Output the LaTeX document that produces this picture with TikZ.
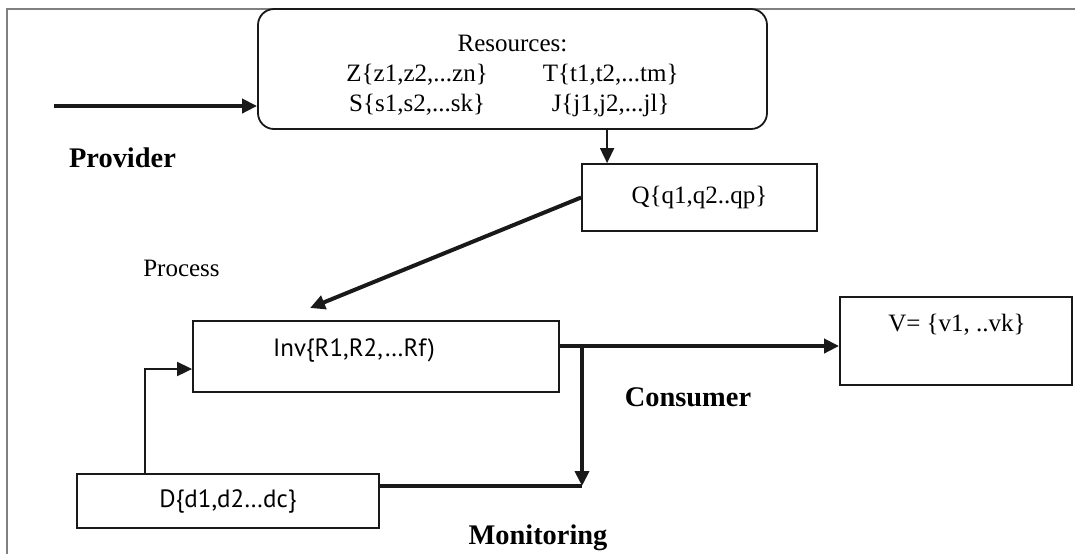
\documentclass[tikz,border=0pt]{standalone}
\usepackage{fontspec}
\setmainfont{Liberation Serif}
\newfontfamily\invfont{PT Sans}
\usetikzlibrary{arrows.meta, calc, positioning}

\tikzset{
  box/.style={draw=black!90, line width=0.9pt, inner sep=0pt},
  serif/.style={font=\fontsize{12.5}{15}\selectfont},
  sans/.style={font=\invfont\fontsize{12.5}{15}\selectfont},
  bold/.style={font=\fontsize{14.2}{17}\selectfont\bfseries},
  flow/.style={line width=2pt, draw=black!90},
  link/.style={line width=0.9pt, draw=black!90},
  tip/.style={-{Triangle[length=7.5pt,width=7pt]}},
}

\begin{document}
\begin{tikzpicture}[x=0.5pt, y=-0.5pt]
    \useasboundingbox (0,0) rectangle (1075,554);
    \draw[gray, line width=0.75pt] (7,554) -- (7,9) -- (1075,9);
    % resources
    \node[box, rounded corners=8pt, minimum width=254.5pt, minimum height=60pt, serif, align=center] (res) at (512.5,69)
      {\rule{0pt}{17pt}Resources:\\ \begin{tabular}[t]{@{}c@{\hspace{27.5pt}}c@{}}
        Z\{z1,z2,...zn\} & T\{t1,t2,...tm\}\\
        S\{s1,s2,...sk\} & J\{j1,j2,...jl\}
      \end{tabular}};
    \node[box, minimum width=117.5pt, minimum height=33.5pt, serif] (q) at (699.5,197.5) {Q\{q1,q2..qp\}};
    \node[bold] (prov) at (122.5,158) {Provider};
    \node[serif] (proc) at (181.5,268) {Process};
    % inventory
    \node[box, minimum width=183pt, minimum height=35.5pt] (inv) at (376,356.5) {};
    \node[sans] (invtxt) at (354,350) {Inv\{R1,R2,…Rf)};
    % consumer
    \node[box, minimum width=116pt, minimum height=44pt] (v) at (956,341) {};
    \node[serif] (vtxt) at (957,325) {V= \{v1, ..vk\}};
    \node[bold] (cons) at (688,397) {Consumer};
    % monitoring
    \node[box, minimum width=151pt, minimum height=27pt, sans] (d) at (228,501) {D\{d1,d2…dc\}};
    \node[bold] (mon) at (538,538) {Monitoring};
    % connectors
    \coordinate (src) at (54,106);
    \draw[flow, tip] (src) -- (src -| res.west);
    \coordinate (qin) at ($(q.north west)+(26,0)$);
    \draw[link, tip] (res.south -| qin) -- (qin);
    \coordinate (invin) at (310,308);
    \draw[flow, tip] (q.west) -- (invin);
    \coordinate (split) at ($(inv.east)+(0,-10.5)$);
    \draw[flow, tip] (split) -- (split -| v.west);
    \coordinate (join) at (582,486);
    \draw[flow, tip] (split -| join) -- (join);
    \draw[flow] (d.east |- join) -- (join);
    \coordinate (dout) at ($(d.north west)+(69,0)$);
    \coordinate (fb) at ($(inv.west)+(0,12.5)$);
    \draw[link, tip] (dout) |- (fb);
\end{tikzpicture}
\end{document}
